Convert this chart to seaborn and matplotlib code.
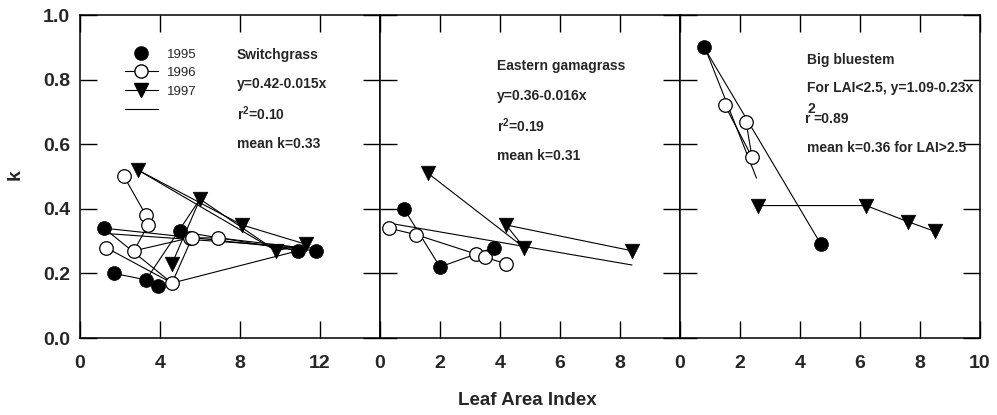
import matplotlib
matplotlib.use("Agg")
import matplotlib.pyplot as plt
from matplotlib.lines import Line2D
import seaborn as sns
import pandas as pd

# ---- Switchgrass (left panel) ----
sw_x95 = [1.2, 1.7, 3.3, 3.9, 5.0, 10.9, 11.8]
sw_k95 = [0.34, 0.20, 0.18, 0.16, 0.33, 0.27, 0.27]
sw_x96 = [2.2, 3.3, 3.4, 1.3, 2.7, 4.6, 5.5, 5.6, 6.9]
sw_k96 = [0.50, 0.38, 0.35, 0.28, 0.27, 0.17, 0.31, 0.31, 0.31]
sw_x97 = [2.9, 6.0, 8.1, 9.8, 11.3, 4.6]
sw_k97 = [0.52, 0.43, 0.35, 0.27, 0.29, 0.23]
# connecting lines (run id, x, k)
sw_run = [1, 1, 2, 2, 2, 3, 3, 4, 4, 4, 4, 4, 4, 4, 5, 5, 5, 6, 6, 7, 7, 7, 8, 8, 8, 9, 9, 9, 10, 10]
sw_lx = [1.2, 11.8, 1.7, 3.3, 6.0, 1.2, 4.6, 2.2, 3.3, 3.4, 2.7, 5.5, 6.9, 11.0,
         1.3, 4.6, 10.9, 4.6, 5.6, 2.9, 8.1, 11.3, 2.9, 9.8, 11.3, 4.6, 6.0, 9.8, 5.0, 10.9]
sw_lk = [0.34, 0.27, 0.20, 0.18, 0.43, 0.34, 0.17, 0.50, 0.38, 0.35, 0.27, 0.31, 0.31, 0.28,
         0.28, 0.17, 0.27, 0.17, 0.31, 0.52, 0.35, 0.29, 0.52, 0.27, 0.29, 0.23, 0.43, 0.27, 0.33, 0.27]
sw_fit_x = [1.2, 11.7]
sw_fit_k = [0.324, 0.278]

# ---- Eastern gamagrass (middle panel) ----
eg_x95 = [0.8, 2.0, 3.8]
eg_k95 = [0.40, 0.22, 0.28]
eg_x96 = [0.3, 1.2, 3.2, 3.5, 4.2]
eg_k96 = [0.34, 0.32, 0.26, 0.25, 0.23]
eg_x97 = [1.6, 4.2, 4.8, 8.4]
eg_k97 = [0.51, 0.35, 0.28, 0.27]
eg_run = [1, 1, 1, 2, 2, 2, 2, 2, 3, 3, 3, 3]
eg_lx = [0.8, 2.0, 3.8, 0.3, 1.2, 3.2, 3.5, 4.2, 1.6, 4.8, 4.2, 8.4]
eg_lk = [0.40, 0.22, 0.28, 0.34, 0.32, 0.26, 0.25, 0.23, 0.51, 0.28, 0.35, 0.27]
eg_fit_x = [0.4, 8.4]
eg_fit_k = [0.354, 0.226]

# ---- Big bluestem (right panel) ----
bb_x95 = [0.8, 4.7]
bb_k95 = [0.90, 0.29]
bb_x96 = [1.5, 2.2, 2.4]
bb_k96 = [0.72, 0.67, 0.56]
bb_x97 = [2.6, 6.2, 7.6, 8.5]
bb_k97 = [0.41, 0.41, 0.36, 0.33]
bb_run = [1, 1, 2, 2, 2, 3, 3, 3, 3]
bb_lx = [0.8, 4.7, 1.5, 2.4, 2.2, 2.6, 6.2, 7.6, 8.5]
bb_lk = [0.90, 0.29, 0.72, 0.56, 0.67, 0.41, 0.41, 0.36, 0.33]
bb_fit_x = [0.8, 2.55]
bb_fit_k = [0.906, 0.495]

years = ['1995', '1996', '1997']

sns.set_style('ticks')
plt.rcParams['font.family'] = ['Liberation Sans', 'DejaVu Sans']
plt.rcParams['mathtext.fontset'] = 'custom'
plt.rcParams['mathtext.rm'] = 'Liberation Sans:bold'
plt.rcParams['mathtext.it'] = 'Liberation Sans:bold'
plt.rcParams['mathtext.bf'] = 'Liberation Sans:bold'

fig = plt.figure(figsize=(9.97, 4.15), dpi=100)
W, H = 997, 415
left0, pw, bot, top = 80, 300, 338, 15
axes = [fig.add_axes([(left0 + i * pw) / W, (H - bot) / H, pw / W, (bot - top) / H]) for i in range(3)]

panels = [
    (sw_x95, sw_k95, sw_x96, sw_k96, sw_x97, sw_k97, sw_run, sw_lx, sw_lk, sw_fit_x, sw_fit_k, 15, [0, 4, 8, 12]),
    (eg_x95, eg_k95, eg_x96, eg_k96, eg_x97, eg_k97, eg_run, eg_lx, eg_lk, eg_fit_x, eg_fit_k, 10, [0, 2, 4, 6, 8]),
    (bb_x95, bb_k95, bb_x96, bb_k96, bb_x97, bb_k97, bb_run, bb_lx, bb_lk, bb_fit_x, bb_fit_k, 10, [0, 2, 4, 6, 8, 10]),
]

for i, (ax, p) in enumerate(zip(axes, panels)):
    x95, k95, x96, k96, x97, k97, run, lx, lk, fx, fk, xmax, xt = p
    lines = pd.DataFrame({'x': lx, 'k': lk, 'run': run})
    sns.lineplot(data=lines, x='x', y='k', units='run', estimator=None, sort=False,
                 color='black', lw=0.8, ax=ax, zorder=2)
    fit = pd.DataFrame({'x': fx, 'k': fk})
    sns.lineplot(data=fit, x='x', y='k', color='black', lw=0.8, ax=ax, zorder=2)
    sns.scatterplot(x=x96, y=k96, marker='o', s=95, facecolor='white', edgecolor='black',
                    linewidth=0.9, ax=ax, zorder=3)
    sns.scatterplot(x=x95, y=k95, marker='o', s=100, color='black', edgecolor='black',
                    linewidth=0.5, ax=ax, zorder=4)
    sns.scatterplot(x=x97, y=k97, marker='v', s=110, color='black', edgecolor='black',
                    linewidth=0.5, ax=ax, zorder=4)

    ax.set_xlim(0, xmax)
    ax.set_ylim(0, 1.0)
    ax.set_xticks(xt)
    ax.set_yticks([0, 0.2, 0.4, 0.6, 0.8, 1.0])
    ax.set_xlabel('')
    ax.set_ylabel('')
    ax.tick_params(direction='in', length=12, width=1, top=True, right=True,
                   labelsize=14, color='black')
    ax.tick_params(axis='x', pad=12)
    ax.tick_params(axis='y', pad=7)
    if i == 0:
        ax.set_yticklabels(['%.1f' % v for v in ax.get_yticks()])
    else:
        ax.tick_params(labelleft=False)
    for lbl in ax.get_xticklabels() + ax.get_yticklabels():
        lbl.set_fontweight('bold')
    for s in ax.spines.values():
        s.set_linewidth(1.1)
        s.set_color('black')
        s.set_visible(True)

tk = dict(fontsize=10, fontweight='bold', va='center', ha='left')
a1, a2, a3 = axes
a1.text(7.85, 0.876, 'Switchgrass', **tk)
a1.text(7.85, 0.786, 'y=0.42-0.015x', **tk)
a1.text(7.85, 0.693, 'r$^{2}$=0.10', **tk)
a1.text(7.85, 0.600, 'mean k=0.33', **tk)

a2.text(3.9, 0.843, 'Eastern gamagrass', **tk)
a2.text(3.9, 0.750, 'y=0.36-0.016x', **tk)
a2.text(3.9, 0.657, 'r$^{2}$=0.19', **tk)
a2.text(3.9, 0.564, 'mean k=0.31', **tk)

a3.text(4.22, 0.860, 'Big bluestem', **tk)
a3.text(4.22, 0.774, 'For LAI<2.5, y=1.09-0.23x', **tk)
a3.text(4.17, 0.678, 'r', **tk)
a3.text(4.25, 0.708, '2', **tk)
a3.text(4.43, 0.678, '=0.89', **tk)
a3.text(4.22, 0.588, 'mean k=0.36 for LAI>2.5', **tk)

handles = [
    Line2D([], [], marker='o', color='black', ls='none', ms=9.5),
    Line2D([], [], marker='o', color='black', mfc='white', ls='-', lw=0.8, ms=9.5),
    Line2D([], [], marker='v', color='black', ls='-', lw=0.8, ms=10),
    Line2D([], [], color='black', ls='-', lw=0.8),
]
leg = a1.legend(handles, years + [''], loc='upper left', bbox_to_anchor=(0.15, 0.897),
                frameon=False, fontsize=9.5, handlelength=2.5, handletextpad=0.7,
                labelspacing=0.48, borderpad=0, borderaxespad=0)

fig.text(527 / W, 1 - 400 / H, 'Leaf Area Index', ha='center', va='center',
         fontsize=13.5, fontweight='bold')
fig.text(15 / W, 1 - 175 / H, 'k', ha='center', va='center', rotation=90,
         fontsize=14, fontweight='bold')

fig.savefig('out.png', dpi=100)
